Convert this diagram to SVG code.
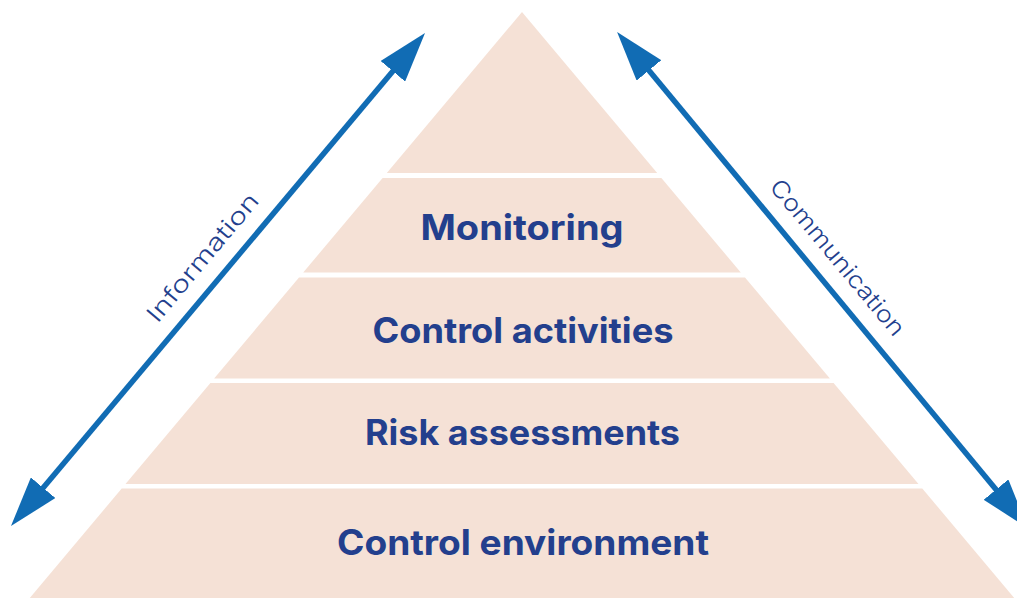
<svg xmlns="http://www.w3.org/2000/svg" width="1017" height="598" viewBox="0 0 1017 598">
  <style>
    .band { fill: #F5E1D6; }
    .lbl { font-family: Inter, "Liberation Sans", sans-serif; font-weight: 700; font-size: 35px; fill: #233F8D; text-anchor: middle; }
    .side { font-family: Inter, "Liberation Sans", sans-serif; font-weight: 300; font-size: 23.5px; fill: #233F8D; text-anchor: middle; }
    .shaft { stroke: #116CB4; stroke-width: 5.5; fill: none; }
  </style>
  <defs>
    <marker id="head" markerUnits="userSpaceOnUse" viewBox="0 -16 50 32" refX="10" refY="0" markerWidth="50" markerHeight="32" orient="auto-start-reverse">
      <path d="M0,-16 L50,0 L0,16 Z" fill="#116CB4"/>
    </marker>
  </defs>
  <rect width="1017" height="598" fill="#FFFFFF"/>

  <g id="apex">
    <polygon class="band" points="522,12 657.2,173 386.8,173"/>
  </g>
  <g id="monitoring">
    <polygon class="band" points="382.6,178 661.4,178 740.8,272.5 303.2,272.5"/>
    <text class="lbl" x="522" y="239.5" textLength="203" lengthAdjust="spacingAndGlyphs">Monitoring</text>
  </g>
  <g id="control-activities">
    <polygon class="band" points="299,277.5 745,277.5 829.9,378.5 214.1,378.5"/>
    <text class="lbl" x="523" y="342.5" textLength="301" lengthAdjust="spacingAndGlyphs">Control activities</text>
  </g>
  <g id="risk-assessments">
    <polygon class="band" points="210.4,383 833.6,383 918.5,484 125.5,484"/>
    <text class="lbl" x="522.5" y="445" textLength="315" lengthAdjust="spacingAndGlyphs">Risk assessments</text>
  </g>
  <g id="control-environment">
    <polygon class="band" points="121.7,488.5 922.3,488.5 1015.9,600 28.1,600"/>
    <text class="lbl" x="523" y="555" textLength="372" lengthAdjust="spacingAndGlyphs">Control environment</text>
  </g>

  <g id="connectors">
    <line id="information-arrow" class="shaft" x1="36.7" y1="495.4" x2="399.3" y2="63.6" marker-start="url(#head)" marker-end="url(#head)"/>
    <line id="communication-arrow" class="shaft" x1="642.6" y1="62.7" x2="1002.4" y2="497.3" marker-start="url(#head)" marker-end="url(#head)"/>
    <text class="side" transform="translate(208.8,262.7) rotate(-50)" textLength="160" lengthAdjust="spacingAndGlyphs">Information</text>
    <text class="side" transform="translate(831.3,262.7) rotate(50.2)" textLength="196" lengthAdjust="spacingAndGlyphs">Communication</text>
  </g>
</svg>
